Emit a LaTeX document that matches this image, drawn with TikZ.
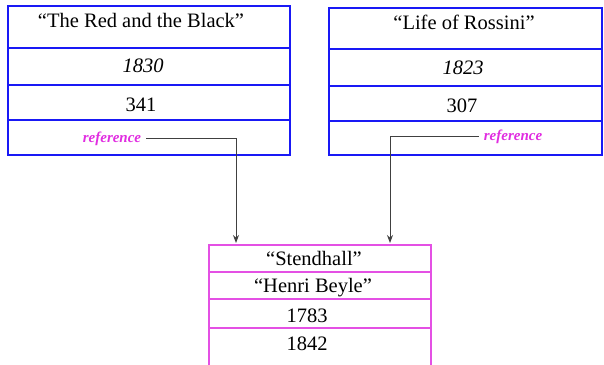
\documentclass[tikz,border=0pt]{standalone}
\usepackage{fontspec}
\setmainfont{Liberation Serif}
\usetikzlibrary{arrows.meta}
\definecolor{recblue}{RGB}{25,25,245}
\definecolor{recpink}{RGB}{228,80,228}
\definecolor{refpink}{RGB}{225,45,225}
\tikzset{
  cell/.style={draw, inner sep=0pt, anchor=north west, line width=2pt},
  bookcell/.style={cell, draw=recblue, minimum width=282pt},
  rossinicell/.style={cell, draw=recblue, minimum width=273pt},
  authorcell/.style={cell, draw=recpink, minimum width=222pt},
  val/.style={anchor=base, inner sep=0pt, font=\fontsize{20.5}{24}\selectfont},
  refword/.style={inner sep=0pt, text=refpink, font=\fontsize{15}{18}\selectfont\bfseries\itshape},
  conn/.style={draw=black!75, line width=0.9pt, -{Stealth[length=8pt,width=6pt]}}
}
\begin{document}
\begin{tikzpicture}[x=1pt,y=-1pt]
\useasboundingbox (0,0) rectangle (604,364);
\clip (0,0) rectangle (604,364);
\fill[white] (0,0) rectangle (604,364);

% first book record
\node[bookcell, minimum height=42pt] (b1r1) at (7,5) {};
\node[bookcell, minimum height=37pt] (b1r2) at (7,47) {};
\node[bookcell, minimum height=35pt] (b1r3) at (7,84) {};
\node[bookcell, minimum height=35pt] (b1r4) at (7,119) {};
\node[val] (b1title) at (141,27) {“The Red and the Black”};
\node[val, font=\fontsize{20.5}{24}\selectfont\itshape] (b1year) at (143,72) {1830};
\node[val] (b1pages) at (141,111) {341};
\node[refword, anchor=base] (b1ref) at (112,142) {reference};

% second book record
\node[rossinicell, minimum height=41pt] (b2r1) at (328,7) {};
\node[rossinicell, minimum height=37pt] (b2r2) at (328,48) {};
\node[rossinicell, minimum height=35pt] (b2r3) at (328,85) {};
\node[rossinicell, minimum height=34pt] (b2r4) at (328,120) {};
\node[val] (b2title) at (464,29) {“Life of Rossini”};
\node[val, font=\fontsize{20.5}{24}\selectfont\itshape] (b2year) at (463,74) {1823};
\node[val] (b2pages) at (462,112) {307};
\node[refword, anchor=base] (b2ref) at (513,140) {reference};

% author record
\node[authorcell, minimum height=27pt] (a1) at (208,244) {};
\node[authorcell, minimum height=27pt] (a2) at (208,271) {};
\node[authorcell, minimum height=29pt] (a3) at (208,298) {};
\node[authorcell, minimum height=45pt] (a4) at (208,327) {};
\node[val] (aname) at (314,265) {“Stendhall”};
\node[val] (areal) at (313,292) {“Henri Beyle”};
\node[val] (aborn) at (307,322) {1783};
\node[val] (adied) at (307,350) {1842};

% references pointing into the author record
\coordinate (in1) at (236,243);
\coordinate (in2) at (390,243);
\draw[conn] ([xshift=5pt]b1ref.east) -| (in1);
\draw[conn] ([xshift=-5pt]b2ref.west) -| (in2);
\end{tikzpicture}
\end{document}
